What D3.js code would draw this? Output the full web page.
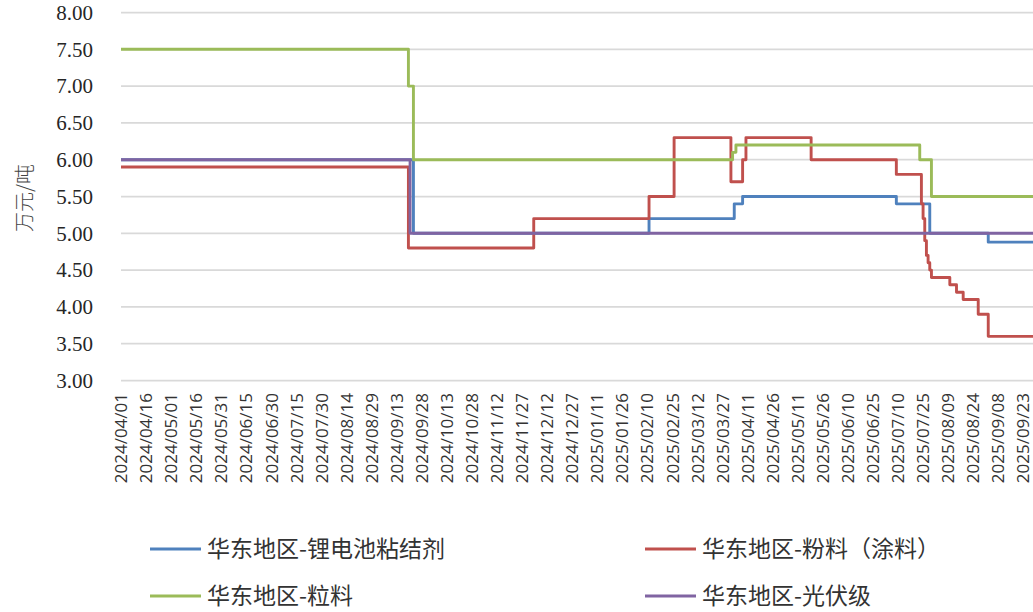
<!DOCTYPE html>
<html>
<head>
<meta charset="utf-8">
<script src="https://d3js.org/d3.v7.min.js"></script>
<style>
  body { margin: 0; background: #fff; }
  svg { display: block; }
</style>
</head>
<body>
<div id="chart"></div>
<script>

// Data
// change points of each series (value holds from that date on)

var seriesNames = ['华东地区-锂电池粘结剂', '华东地区-粉料（涂料）', '华东地区-粒料', '华东地区-光伏级'];

var binderDates = ['2024-04-01', '2024-09-23', '2025-02-11', '2025-04-03', '2025-04-08', '2025-07-09', '2025-07-29', '2025-09-02', '2025-09-30'];
var binderValues = [6.0, 5.0, 5.2, 5.4, 5.5, 5.4, 5.0, 4.88, 4.88];

var powderDates = ['2024-04-01', '2024-09-20', '2024-12-04', '2025-02-11', '2025-02-26', '2025-04-01', '2025-04-08', '2025-04-10',
  '2025-05-19', '2025-07-09', '2025-07-24', '2025-07-25', '2025-07-26', '2025-07-27', '2025-07-28', '2025-07-29', '2025-07-30',
  '2025-08-10', '2025-08-14', '2025-08-18', '2025-08-27', '2025-09-02', '2025-09-30'];
var powderValues = [5.9, 4.8, 5.2, 5.5, 6.3, 5.7, 6.0, 6.3,
  6.0, 5.8, 5.4, 5.2, 4.9, 4.7, 4.6, 4.5, 4.4,
  4.3, 4.2, 4.1, 3.9, 3.6, 3.6];

var pelletDates = ['2024-04-01', '2024-09-20', '2024-09-23', '2025-04-02', '2025-04-04', '2025-07-23', '2025-07-30', '2025-09-30'];
var pelletValues = [7.5, 7.0, 6.0, 6.1, 6.2, 6.0, 5.5, 5.5];

var pvDates = ['2024-04-01', '2024-09-21', '2025-09-30'];
var pvValues = [6.0, 5.0, 5.0];

var yTicks = [3, 3.5, 4, 4.5, 5, 5.5, 6, 6.5, 7, 7.5, 8];
var firstTick = '2024-04-01', lastTick = '2025-09-23', tickStepDays = 15;

var colors = ['#4f81bd', '#c0504d', '#9bbb59', '#8064a2'];


// Layout

var width = 1033,
    height = 612,
    plotLeft = 121,
    plotRight = width,
    plotTop = 12.5,
    plotBottom = 380.5;

var parse = d3.utcParse('%Y-%m-%d');
var fmt = d3.utcFormat('%Y/%m/%d');

function pairs(dates, values) {
  return dates.map(function(d, i) { return {date: parse(d), value: values[i]}; });
}

var series = [
  pairs(binderDates, binderValues),
  pairs(powderDates, powderValues),
  pairs(pelletDates, pelletValues),
  pairs(pvDates, pvValues)
];

var svg = d3.select('#chart').append('svg')
    .attr('width', width)
    .attr('height', height);

var x = d3.scaleUtc()
    .domain([parse(firstTick), parse(lastTick)])
    .range([plotLeft, plotLeft + 540 * 1.671]);

var y = d3.scaleLinear()
    .domain([3, 8])
    .range([plotBottom, plotTop]);

// gridlines
svg.append('g')
  .selectAll('line')
  .data(yTicks)
  .enter()
  .append('line')
    .attr('x1', plotLeft)
    .attr('x2', plotRight)
    .attr('y1', function(d) { return y(d); })
    .attr('y2', function(d) { return y(d); })
    .attr('stroke', '#d9d9d9')
    .attr('stroke-width', 1.75);

// y labels
svg.append('g')
  .selectAll('text')
  .data(yTicks)
  .enter()
  .append('text')
    .attr('x', 93)
    .attr('y', function(d) { return y(d); })
    .attr('dy', '0.35em')
    .attr('text-anchor', 'end')
    .style('font-family', "'Liberation Serif', 'Times New Roman', serif")
    .style('font-size', '21px')
    .style('fill', '#262626')
    .text(function(d) { return d.toFixed(2); });

// y title
svg.append('text')
    .attr('transform', 'translate(25,198) rotate(-90)')
    .attr('text-anchor', 'middle')
    .attr('dy', '0.35em')
    .style('font-family', "'Noto Sans CJK SC', sans-serif")
    .style('font-size', '20px')
    .style('font-weight', 300)
    .style('fill', '#444')
    .text('万元/吨');

// x labels, every 15 days
var xTicks = d3.utcDay.range(parse(firstTick), d3.utcDay.offset(parse(lastTick), 1), tickStepDays);

svg.append('g')
  .selectAll('text')
  .data(xTicks)
  .enter()
  .append('text')
    .attr('transform', function(d) { return 'translate(' + x(d) + ',393) rotate(-90)'; })
    .attr('text-anchor', 'end')
    .attr('dy', '0.36em')
    .style('font-family', "'Open Sans', sans-serif")
    .style('font-size', '17px')
    .style('fill', '#333')
    .text(function(d) { return fmt(d); });

// lines
svg.append('defs').append('clipPath')
    .attr('id', 'clip')
  .append('rect')
    .attr('x', plotLeft)
    .attr('y', 0)
    .attr('width', plotRight - plotLeft)
    .attr('height', plotBottom + 5);

var line = d3.line()
    .curve(d3.curveStepAfter)
    .x(function(d) { return x(d.date); })
    .y(function(d) { return y(d.value); });

svg.append('g')
    .attr('clip-path', 'url(#clip)')
  .selectAll('path')
  .data(series)
  .enter()
  .append('path')
    .attr('d', line)
    .attr('fill', 'none')
    .attr('stroke', function(d, i) { return colors[i]; })
    .attr('stroke-width', 2.9)
    .attr('stroke-linejoin', 'round');

// legend
var legendPos = [[150, 549], [645, 549], [150, 596], [645, 596]];

var legend = svg.append('g')
  .selectAll('g')
  .data(seriesNames)
  .enter()
  .append('g')
    .attr('transform', function(d, i) { return 'translate(' + legendPos[i][0] + ',' + legendPos[i][1] + ')'; });

legend.append('line')
    .attr('x1', 0)
    .attr('x2', 51)
    .attr('stroke', function(d, i) { return colors[i]; })
    .attr('stroke-width', 3);

legend.append('text')
    .attr('x', 57)
    .attr('dy', '0.36em')
    .style('font-family', "'Noto Sans CJK SC', sans-serif")
    .style('font-size', '23px')
    .style('fill', '#333')
    .text(function(d) { return d; });

</script>
</body>
</html>
